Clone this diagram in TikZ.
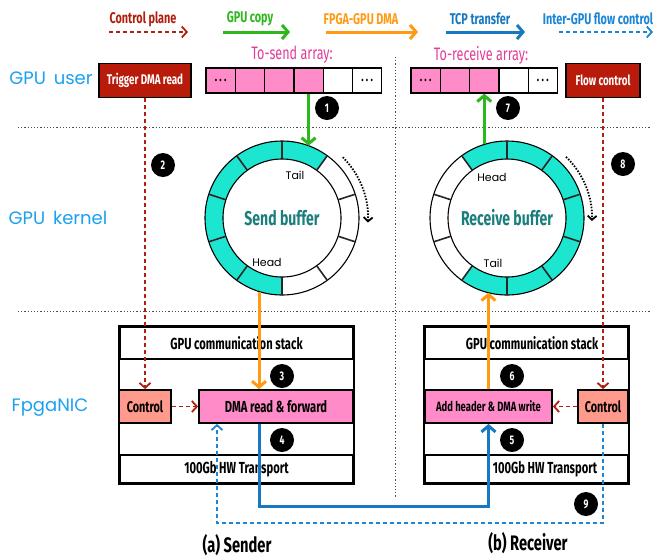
\documentclass[tikz,border=0pt]{standalone}
\usepackage{fontspec}
\setmainfont{Fira Sans}
\newfontfamily\cond[FakeStretch=0.7]{Fira Sans}
\newfontfamily\geo{Poppins}
\usetikzlibrary{arrows.meta,calc}
\definecolor{cred}{HTML}{B0200F}
\definecolor{cgreen}{HTML}{2EB81C}
\definecolor{corange}{HTML}{FF9A12}
\definecolor{cblue}{HTML}{1878C0}
\definecolor{cfc}{HTML}{1A86D6}
\definecolor{clabel}{HTML}{1BA1F2}
\definecolor{cpinktxt}{HTML}{E23D98}
\definecolor{cpink}{HTML}{FF8CC8}
\definecolor{cteal}{HTML}{1CE6D0}
\definecolor{ctealtxt}{HTML}{1A7E7C}
\definecolor{csalmon}{HTML}{FF9A8C}
\definecolor{ctrig}{HTML}{B81B0A}
\tikzset{
  boxframe/.style={draw=black, line width=1.8pt, inner sep=0pt, font=\cond\bfseries\fontsize{16}{18}\selectfont},
  badge/.style={circle, fill=black, text=white, minimum size=24pt, inner sep=0pt, font=\cond\bfseries\fontsize{12.5}{13}\selectfont},
  cell/.style={draw=black, line width=1.2pt, minimum width=29.3pt, minimum height=25pt, inner sep=0pt, font=\cond\bfseries\fontsize{14}{14}\selectfont},
  legtxt/.style={font=\cond\bfseries\fontsize{15.5}{17}\selectfont, inner sep=0pt},
  sidelbl/.style={font=\geo\fontsize{18}{20}\selectfont, text=clabel, inner sep=0pt},
  ringlbl/.style={font=\geo\fontsize{11}{12}\selectfont, inner sep=0pt},
  bufftxt/.style={font=\cond\bfseries\fontsize{20}{22}\selectfont, text=ctealtxt, inner sep=0pt},
  arrtxt/.style={font=\cond\fontsize{18}{20}\selectfont, text=cpinktxt, inner sep=0pt},
  captxt/.style={font=\cond\bfseries\fontsize{21}{23}\selectfont, inner sep=0pt},
  ctlarr/.style={draw=cred, line width=1.8pt, dash pattern=on 4pt off 3pt, -{Straight Barb[length=5pt,width=11pt]}},
  fcarr/.style={draw=cfc, line width=1.8pt, dash pattern=on 4pt off 3pt, -{Straight Barb[length=5pt,width=11pt]}},
  copyarr/.style={draw=cgreen, line width=3pt, -{Straight Barb[length=6pt,width=14pt]}},
  dmaarr/.style={draw=corange, line width=3pt, -{Straight Barb[length=6pt,width=14pt]}},
  tcparr/.style={draw=cblue, line width=3pt, -{Straight Barb[length=6pt,width=14pt]}},
  sep/.style={draw=black!70, line width=0.9pt, dash pattern=on 1.2pt off 2pt},
  spin/.style={draw=black, line width=1.8pt, dash pattern=on 1.5pt off 1.5pt, -{Straight Barb[length=4pt,width=9pt]}},
}
\begin{document}
\begin{tikzpicture}[x=1pt,y=1pt]
\useasboundingbox (0,0) rectangle (655,-558);
\fill[white] (0,0) rectangle (655,-558);

% separators
\coordinate (h1a) at (18,-127); \coordinate (h1b) at (650,-127);
\coordinate (h2a) at (18,-311); \coordinate (h2b) at (650,-311);
\coordinate (v1a) at (395,-57); \coordinate (v1b) at (395,-498);
\draw[sep] (h1a) -- (h1b);
\draw[sep] (h2a) -- (h2b);
\draw[sep] (v1a) -- (v1b);

% legend
\node[legtxt, text=cred] (lg1) at (143,-19) {Control plane};
\node[legtxt, text=cgreen] (lg2) at (250,-19) {GPU copy};
\node[legtxt, text=corange] (lg3) at (361,-19) {FPGA-GPU DMA};
\node[legtxt, text=cblue] (lg4) at (480,-19) {TCP transfer};
\node[legtxt, text=cfc] (lg5) at (598,-19) {Inter-GPU flow control};
\coordinate (l1a) at (109,-32); \coordinate (l1b) at (188,-32);
\coordinate (l2a) at (223,-32); \coordinate (l2b) at (290,-32);
\coordinate (l3a) at (326,-32); \coordinate (l3b) at (418,-32);
\coordinate (l4a) at (446,-32); \coordinate (l4b) at (525,-32);
\coordinate (l5a) at (559,-32); \coordinate (l5b) at (653,-32);
\draw[ctlarr] (l1a) -- (l1b);
\draw[copyarr] (l2a) -- (l2b);
\draw[dmaarr] (l3a) -- (l3b);
\draw[tcparr] (l4a) -- (l4b);
\draw[fcarr] (l5a) -- (l5b);

% side labels
\node[sidelbl] (lu) at (51,-78) {GPU\, user};
\node[sidelbl] (lk) at (58,-218) {GPU\, kernel};
\node[sidelbl] (ln) at (50,-408) {FpgaNIC};

% GPU user row
\node[boxframe, line width=1.3pt, fill=ctrig, text=white, minimum width=92pt, minimum height=34pt, font=\cond\bfseries\fontsize{14}{16}\selectfont] (trig) at (145,-80.5) {Trigger DMA read};
\node[boxframe, line width=1.3pt, fill=ctrig, text=white, minimum width=74pt, minimum height=34pt, font=\cond\bfseries\fontsize{14}{16}\selectfont] (flowc) at (603,-80.5) {Flow control};

\node[arrtxt] (sat) at (292,-55) {To-send array:};
\node[cell, fill=cpink] (s1) at (220.65,-80.5) {.\,.\,.};
\node[cell, fill=cpink] (s2) at (249.95,-80.5) {};
\node[cell, fill=cpink] (s3) at (279.25,-80.5) {};
\node[cell, fill=cpink] (s4) at (308.55,-80.5) {};
\node[cell, fill=white] (s5) at (337.85,-80.5) {};
\node[cell, fill=white] (s6) at (367.15,-80.5) {.\,.\,.};

\node[arrtxt] (rat) at (481,-55) {To-receive array:};
\node[cell, fill=cpink] (r1) at (425.65,-80.5) {.\,.\,.};
\node[cell, fill=cpink] (r2) at (454.95,-80.5) {};
\node[cell, fill=cpink] (r3) at (484.25,-80.5) {};
\node[cell, fill=white] (r4) at (513.55,-80.5) {};
\node[cell, fill=white] (r5) at (542.85,-80.5) {.\,.\,.};

% send ring
\begin{scope}[shift={(282,-218)}]
  \foreach \a in {54,90,126,162,198,234} {
    \fill[cteal] (\a:77) arc[start angle=\a, delta angle=36, radius=77] -- ({\a+36}:59) arc[start angle={\a+36}, delta angle=-36, radius=59] -- cycle;
  }
  \draw[line width=1.1pt] (0,0) circle[radius=77];
  \draw[line width=1.1pt] (0,0) circle[radius=59];
  \foreach \a in {18,54,...,342} \draw[line width=1.6pt, black!85] (\a:59) -- (\a:77);
  \node[bufftxt] (sbuf) at (0,0) {Send buffer};
  \node[ringlbl] (stail) at (13,43) {Tail};
  \node[ringlbl] (shead) at (-15,-44) {Head};
  \coordinate (sspa) at (45:86);
  \coordinate (sspb) at (-3:86);
  \draw[spin] (sspa) arc[start angle=45, end angle=-3, radius=86];
\end{scope}
\coordinate (sringT) at (308.55,-145.7);
\coordinate (sringB) at (259,-291.5);

% receive ring
\begin{scope}[shift={(507,-218)}]
  \foreach \a in {-126,-90,-54,-18,18,54,90} {
    \fill[cteal] (\a:77) arc[start angle=\a, delta angle=36, radius=77] -- ({\a+36}:59) arc[start angle={\a+36}, delta angle=-36, radius=59] -- cycle;
  }
  \draw[line width=1.1pt] (0,0) circle[radius=77];
  \draw[line width=1.1pt] (0,0) circle[radius=59];
  \foreach \a in {18,54,...,342} \draw[line width=1.6pt, black!85] (\a:59) -- (\a:77);
  \node[bufftxt] (rbuf) at (0,0) {Receive buffer};
  \node[ringlbl] (rhead) at (-15,41) {Head};
  \node[ringlbl] (rtail) at (-14,-45) {Tail};
  \coordinate (rspa) at (46:85);
  \coordinate (rspb) at (-2:85);
  \draw[spin] (rspa) arc[start angle=46, end angle=-2, radius=85];
\end{scope}
\coordinate (rringT) at (484.25,-144.4);
\coordinate (rringB) at (488.5,-292.6);

% sender FpgaNIC
\node[boxframe, minimum width=233pt, minimum height=32pt] (sstk) at (236.5,-343) {GPU communication stack};
\node[boxframe, minimum width=233pt, minimum height=28pt] (strn) at (236.5,-469) {100Gb HW Transport};
\draw[line width=1.8pt] (sstk.north west) rectangle (strn.south east);
\node[boxframe, fill=csalmon, minimum width=52pt, minimum height=33pt, font=\cond\bfseries\fontsize{15.5}{17}\selectfont] (sctrl) at (145,-406.5) {Control};
\node[boxframe, fill=cpink, minimum width=154pt, minimum height=33pt] (sdma) at (276,-406.5) {DMA read \& forward};

% receiver FpgaNIC
\node[boxframe, minimum width=203pt, minimum height=32pt] (rstk) at (526.5,-343) {};
\node[boxframe, minimum width=203pt, minimum height=28pt] (rtrn) at (526.5,-469) {};
\draw[line width=1.8pt] (rstk.north west) rectangle (rtrn.south east);
\node[font=\cond\bfseries\fontsize{16}{18}\selectfont, inner sep=0pt] (rstkt) at (532,-343) {GPU communication stack};
\node[font=\cond\bfseries\fontsize{16}{18}\selectfont, inner sep=0pt] (rtrnt) at (545,-469) {100Gb HW Transport};
\node[boxframe, fill=cpink, minimum width=127pt, minimum height=33pt, font=\cond\bfseries\fontsize{13.5}{15}\selectfont] (radd) at (488.5,-406.5) {Add header \& DMA write};
\node[boxframe, fill=csalmon, minimum width=50pt, minimum height=33pt, font=\cond\bfseries\fontsize{15.5}{17}\selectfont] (rctrl) at (603,-406.5) {Control};

% connectors
\draw[copyarr] (s4.south) -- (sringT);
\draw[copyarr] (rringT) -- (r3.south);
\draw[dmaarr] (sringB) -- (sringB |- sdma.north);
\draw[dmaarr] (radd.north) -- (rringB);
\draw[ctlarr] (trig.south) -- (sctrl.north);
\draw[ctlarr] (sctrl.east) -- (sdma.west);
\draw[ctlarr] (flowc.south) -- (rctrl.north);
\draw[ctlarr] (rctrl.west) -- (radd.east);
\coordinate (tcpL) at (259,-506);
\coordinate (tcpR) at (488.5,-506);
\draw[tcparr] (tcpL |- sdma.south) -- (tcpL) -- (tcpR) -- (radd.south);
\coordinate (fcR) at (603,-523);
\coordinate (fcL) at (217,-523);
\draw[fcarr] (rctrl.south) -- (fcR) -- (fcL) -- (fcL |- sdma.south);

% badges
\node[badge] (b1) at (327,-108) {1};
\node[badge] (b2) at (163,-165) {2};
\node[badge] (b3) at (282,-376) {3};
\node[badge] (b4) at (282,-440) {4};
\node[badge] (b5) at (512,-440) {5};
\node[badge] (b6) at (512,-376) {6};
\node[badge] (b7) at (508,-108) {7};
\node[badge] (b8) at (623,-164) {8};
\node[badge] (b9) at (586,-504) {9};

% captions
\node[captxt] (capa) at (237,-545) {(a) Sender};
\node[captxt] (capb) at (528,-543) {(b) Receiver};
\end{tikzpicture}
\end{document}
